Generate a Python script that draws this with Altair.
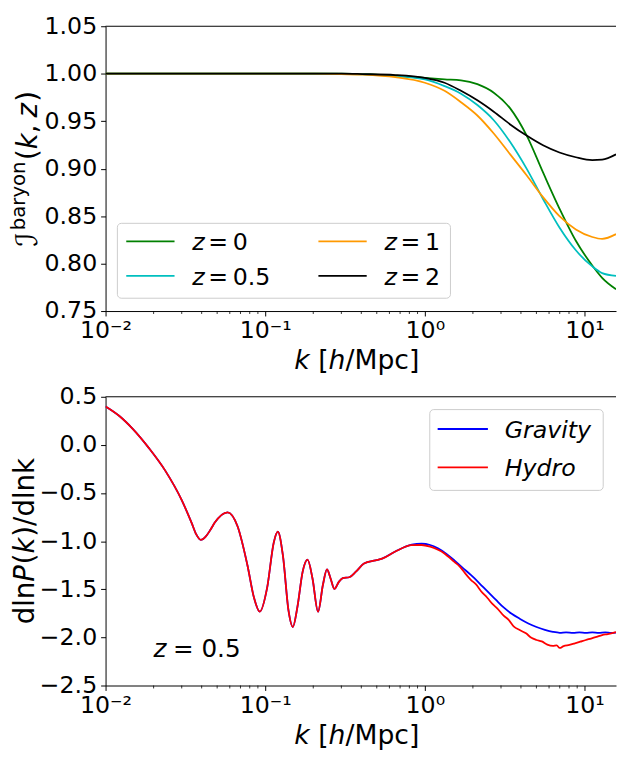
import altair as alt
import pandas as pd

# ---------------- data ----------------
k_top = [0.01, 0.05, 0.1, 0.2, 0.3, 0.406, 0.653, 1.0, 1.329, 1.684, 2.133,
         2.703, 3.425, 4.34, 5.50, 6.97, 8.83, 11.19, 12.9, 15.76]
ib_z0 = [1.0, 1.0, 1.0, 1.0, 1.0, 0.9995, 0.998, 0.9955, 0.994, 0.993, 0.989,
         0.980, 0.9635, 0.935, 0.896, 0.858, 0.824, 0.798, 0.785, 0.773]
ib_z05 = [1.0, 1.0, 1.0, 1.0, 0.9999, 0.9993, 0.9975, 0.994, 0.987, 0.979, 0.967,
          0.951, 0.928, 0.900, 0.868, 0.838, 0.814, 0.797, 0.790, 0.787]
ib_z1 = [1.0, 1.0, 1.0, 1.0, 0.9997, 0.999, 0.9963, 0.9905, 0.982, 0.970, 0.956,
         0.937, 0.915, 0.893, 0.870, 0.850, 0.836, 0.828, 0.826, 0.831]
ib_z2 = [1.0, 1.0, 1.0, 1.0, 1.0, 0.9996, 0.9986, 0.9956, 0.9905, 0.982, 0.972,
         0.960, 0.9466, 0.9348, 0.9246, 0.917, 0.912, 0.909, 0.9095, 0.915]
series_top = ["z = 0", "z = 0.5", "z = 1", "z = 2"]
colors_top = ["#008000", "#00bfbf", "#ff9900", "#000000"]

k_low = [0.0100, 0.0122, 0.01475, 0.0187, 0.0237, 0.0300, 0.0346, 0.0370, 0.0395,
         0.0425, 0.0455, 0.0482, 0.0582, 0.0671, 0.0774, 0.0851, 0.0925, 0.1028,
         0.1132, 0.1200, 0.1291, 0.1400, 0.1490, 0.1590, 0.1717, 0.1842, 0.1977,
         0.2143, 0.2300, 0.2437, 0.2565, 0.2714, 0.2900, 0.3060, 0.3365, 0.3700,
         0.4160, 0.4910, 0.5400, 0.6530]
dlnp_low = [0.399, 0.30, 0.169, -0.034, -0.27, -0.574, -0.81, -0.93, -0.987,
            -0.95, -0.88, -0.81, -0.70, -0.845, -1.25, -1.588, -1.733, -1.486,
            -1.013, -0.902, -1.149, -1.723, -1.892, -1.689, -1.317, -1.193, -1.385,
            -1.733, -1.453, -1.294, -1.385, -1.497, -1.42, -1.385, -1.375, -1.317,
            -1.233, -1.20, -1.182, -1.108]
k_grav_hi = [0.8275, 0.954, 1.08, 1.208, 1.36, 1.531, 1.72, 1.941, 2.19, 2.46, 2.77,
             3.117, 3.5, 3.95, 4.45, 5.007, 5.65, 6.346, 7.0, 7.67, 8.5, 9.3, 10.2,
             11.2, 12.3, 13.5, 14.7, 15.76]
dlnp_grav_hi = [-1.037, -1.027, -1.04, -1.075, -1.13, -1.2, -1.275, -1.351, -1.435,
                -1.52, -1.605, -1.689, -1.755, -1.808, -1.855, -1.892, -1.922, -1.943,
                -1.952, -1.947, -1.953, -1.947, -1.953, -1.947, -1.953, -1.948,
                -1.952, -1.95]
k_hydro_hi = [0.8275, 0.954, 1.08, 1.208, 1.3, 1.4, 1.531, 1.65, 1.78, 1.941, 2.1,
              2.25, 2.46, 2.65, 2.85, 3.117, 3.35, 3.6, 3.95, 4.3, 4.65, 5.007, 5.4,
              5.85, 6.346, 6.7, 7.0, 7.4, 8.04, 8.7, 9.4, 10.19, 11.0, 11.9, 12.9,
              14.0, 15.76]
dlnp_hydro_hi = [-1.042, -1.04, -1.058, -1.09, -1.118, -1.16, -1.216, -1.262, -1.33,
                 -1.402, -1.452, -1.52, -1.588, -1.652, -1.70, -1.774, -1.818,
                 -1.885, -1.926, -1.958, -2.005, -2.027, -2.042, -2.075, -2.088,
                 -2.083, -2.11, -2.09, -2.078, -2.062, -2.045, -2.027, -2.012,
                 -1.995, -1.976, -1.965, -1.945]
series_bot = ["Gravity", "Hydro"]
colors_bot = ["#0000ff", "#ff0000"]

x_major = [0.01, 0.1, 1, 10]
x_minor = [0.02, 0.03, 0.04, 0.05, 0.06, 0.07, 0.08, 0.09,
           0.2, 0.3, 0.4, 0.5, 0.6, 0.7, 0.8, 0.9,
           2, 3, 4, 5, 6, 7, 8, 9]
y_top_ticks = [0.75, 0.80, 0.85, 0.90, 0.95, 1.00, 1.05]
y_bot_ticks = [-2.5, -2.0, -1.5, -1.0, -0.5, 0.0, 0.5]
annot_k, annot_v = 0.02, -2.2

# ---------------- layout / style ----------------
W = 518
H1, H2 = 289, 293
K_MAX = 15.76
FONT = "DejaVu Sans"
TICK_FS, YTITLE_FS, XTITLE_FS, LEG_FS, ANN_FS = 24, 28, 27, 24, 25
LW = 1.8
THIN = "\u2009"

EM = {' ': 0.318, '[': 0.390, ']': 0.390, '/': 0.337, 'M': 0.863, 'p': 0.635,
      'c': 0.550, 'd': 0.635, 'l': 0.278, 'n': 0.634, '(': 0.390, ')': 0.390,
      ',': 0.318, '=': 0.838, '.': 0.318, 'k': 0.579, 'h': 0.634, 'z': 0.525,
      'P': 0.603, 'b': 0.635, 'a': 0.613, 'r': 0.411, 'y': 0.592, 'o': 0.612,
      'ℐ': 0.52}


def seg_width(s, fs):
    return sum(EM.get(c, 0.6) for c in s) * fs


def layout(segs, x0, y0, vertical=False):
    """segs: (text, italic, fontsize, rise, gap_em); centred on x0 (or y0)."""
    total = sum(g * fs + seg_width(t, fs) for t, it, fs, rise, g in segs)
    pos = -total / 2
    rows = []
    for t, it, fs, rise, g in segs:
        pos += g * fs
        if vertical:
            rows.append(dict(t=t, it=it, fs=fs, px=x0 - rise, py=y0 - pos, ang=270))
        else:
            rows.append(dict(t=t, it=it, fs=fs, px=x0 + pos, py=y0 - rise, ang=0))
        pos += seg_width(t, fs)
    return rows


def text_layers(rows):
    df = pd.DataFrame(rows)
    out = []
    for italic in (False, True):
        sub = df[df["it"] == italic].drop(columns=["it"])
        if len(sub) == 0:
            continue
        out.append(alt.Chart(sub).mark_text(
            align="left", baseline="alphabetic", font=FONT, color="black",
            fontStyle="italic" if italic else "normal").encode(
            x=alt.X("px:Q", scale=None, axis=None),
            y=alt.Y("py:Q", scale=None, axis=None),
            text="t:N",
            size=alt.Size("fs:Q", scale=None),
            angle=alt.Angle("ang:Q", scale=None)))
    return out


def legend_box(x1, x2, y1, y2):
    return alt.Chart(pd.DataFrame({"d": [0]})).mark_rect(
        cornerRadius=4, fill="white", fillOpacity=0.8, stroke="#cccccc",
        strokeWidth=1).encode(x=alt.value(x1), x2=alt.value(x2),
                              y=alt.value(y1), y2=alt.value(y2))


def legend_lines(rows):
    return alt.Chart(pd.DataFrame(rows)).mark_rule(strokeWidth=LW).encode(
        x=alt.X("x1:Q", scale=None, axis=None), x2="x2:Q",
        y=alt.Y("y:Q", scale=None, axis=None),
        color=alt.Color("c:N", scale=None))


def top_spine():
    return alt.Chart(pd.DataFrame({"d": [0]})).mark_rule(
        color="black", strokeWidth=1).encode(
        x=alt.value(0), x2=alt.value(W), y=alt.value(0))


LABEL_EXPR = ("datum.value < 0.05 ? '10\u207b\u00b2' : datum.value < 0.5 ? "
              "'10\u207b\u00b9' : datum.value < 5 ? '10\u2070' : '10\u00b9'")
x_scale = alt.Scale(type="log", domain=[0.01, K_MAX], nice=False)
x_axis = alt.Axis(values=x_major, labelExpr=LABEL_EXPR, title=None, grid=False,
                  tickSize=5, labelPadding=3, labelFlush=False, labelOverlap=False)


def minor_ticks(h):
    return alt.Chart(pd.DataFrame({"k": x_minor})).mark_rule(
        color="black", strokeWidth=0.8).encode(
        x=alt.X("k:Q", scale=x_scale, axis=x_axis),
        y=alt.value(h), y2=alt.value(h + 3))


def x_title(h):
    return layout([("k", True, XTITLE_FS, 0, 0), ("[", False, XTITLE_FS, 0, 0.318),
                   ("h", True, XTITLE_FS, 0, 0), ("/Mpc]", False, XTITLE_FS, 0, 0)],
                  W / 2 - 4, h + 59)


def legend_z_text(tx, ty, num):
    return [dict(t="z", it=True, fs=LEG_FS, px=tx, py=ty + 9, ang=0),
            dict(t="=" + THIN + num, it=False, fs=LEG_FS,
                 px=tx + (0.525 + 0.15) * LEG_FS, py=ty + 9, ang=0)]


# ---------------- top panel ----------------
df_top = pd.DataFrame({
    "k": k_top * 4,
    "v": ib_z0 + ib_z05 + ib_z1 + ib_z2,
    "series": [s for s in series_top for _ in k_top],
})
y_top_scale = alt.Scale(domain=[0.75, 1.05], nice=False, zero=False)
y_top_axis = alt.Axis(values=y_top_ticks, format=".2f", title=None, grid=False,
                      tickSize=5, labelPadding=4, labelFlush=False, labelOverlap=False)
lines_top = alt.Chart(df_top).mark_line(
    strokeWidth=LW, interpolate="monotone", clip=True).encode(
    x=alt.X("k:Q", scale=x_scale, axis=x_axis),
    y=alt.Y("v:Q", scale=y_top_scale, axis=y_top_axis),
    color=alt.Color("series:N", scale=alt.Scale(domain=series_top, range=colors_top),
                    legend=None))

ytitle_top = layout([("ℐ", False, 30, 0, 0), ("baryon", False, 20, 12, 0.04),
                     ("(", False, YTITLE_FS, 0, 0.05), ("k", True, YTITLE_FS, 0, 0),
                     (",", False, YTITLE_FS, 0, 0), ("z", True, YTITLE_FS, 0, 0.25),
                     (")", False, YTITLE_FS, 0, 0.05)],
                    -70, H1 / 2, vertical=True)

row1, row2 = H1 - 70.7, H1 - 35.7
leg_top_lines = [dict(x1=21, x2=70, y=row1, c=colors_top[0]),
                 dict(x1=21, x2=70, y=row2, c=colors_top[1]),
                 dict(x1=216, x2=265, y=row1, c=colors_top[2]),
                 dict(x1=216, x2=265, y=row2, c=colors_top[3])]
leg_top_text = (legend_z_text(88, row1, "0") + legend_z_text(88, row2, "0.5") +
                legend_z_text(283, row1, "1") + legend_z_text(283, row2, "2"))

top = alt.layer(
    lines_top, top_spine(), minor_ticks(H1),
    legend_box(12, 350, H1 - 89, H1 - 13), legend_lines(leg_top_lines),
    *text_layers(leg_top_text), *text_layers(ytitle_top), *text_layers(x_title(H1)),
).properties(width=W, height=H1)

# ---------------- bottom panel ----------------
df_bot = pd.DataFrame({
    "k": k_low + k_grav_hi + k_low + k_hydro_hi,
    "v": dlnp_low + dlnp_grav_hi + dlnp_low + dlnp_hydro_hi,
    "series": ["Gravity"] * (len(k_low) + len(k_grav_hi)) + ["Hydro"] * (len(k_low) + len(k_hydro_hi)),
})
y_bot_scale = alt.Scale(domain=[-2.5, 0.5], nice=False, zero=False)
y_bot_axis = alt.Axis(values=y_bot_ticks, format=".1f", title=None, grid=False,
                      tickSize=5, labelPadding=4, labelFlush=False, labelOverlap=False)
lines_bot = alt.Chart(df_bot).mark_line(
    strokeWidth=LW, interpolate="monotone", clip=True).encode(
    x=alt.X("k:Q", scale=x_scale, axis=x_axis),
    y=alt.Y("v:Q", scale=y_bot_scale, axis=y_bot_axis),
    color=alt.Color("series:N", scale=alt.Scale(domain=series_bot, range=colors_bot),
                    legend=None))

ytitle_bot = layout([("dln", False, YTITLE_FS, 0, 0), ("P", True, YTITLE_FS, 0, 0),
                     ("(", False, YTITLE_FS, 0, 0.03), ("k", True, YTITLE_FS, 0, 0),
                     (")/dlnk", False, YTITLE_FS, 0, 0.03)],
                    -73, H2 / 2, vertical=True)

leg_bot_lines = [dict(x1=337, x2=388, y=32.7, c=colors_bot[0]),
                 dict(x1=337, x2=388, y=71.7, c=colors_bot[1])]
leg_bot_text = [dict(t="Gravity", it=True, fs=LEG_FS, px=405, py=32.7 + 9, ang=0),
                dict(t="Hydro", it=True, fs=LEG_FS, px=405, py=71.7 + 9, ang=0)]

annot_df = pd.DataFrame({"k": [annot_k], "v": [annot_v]})
annot_z = alt.Chart(annot_df).mark_text(
    align="left", baseline="alphabetic", font=FONT, fontSize=ANN_FS,
    fontStyle="italic", color="black", text="z").encode(
    x=alt.X("k:Q", scale=x_scale, axis=x_axis),
    y=alt.Y("v:Q", scale=y_bot_scale, axis=y_bot_axis))
annot_rest = alt.Chart(annot_df).mark_text(
    align="left", baseline="alphabetic", font=FONT, fontSize=ANN_FS,
    color="black", text="= 0.5", dx=(0.525 + 0.26) * ANN_FS).encode(
    x=alt.X("k:Q", scale=x_scale, axis=x_axis),
    y=alt.Y("v:Q", scale=y_bot_scale, axis=y_bot_axis))

bottom = alt.layer(
    lines_bot, top_spine(), minor_ticks(H2), annot_z, annot_rest,
    legend_box(W - 189, W - 13, 13, 95), legend_lines(leg_bot_lines),
    *text_layers(leg_bot_text), *text_layers(ytitle_bot), *text_layers(x_title(H2)),
).properties(width=W, height=H2)

chart = alt.vconcat(top, bottom, spacing=9).resolve_scale(
    color="independent", x="independent", y="independent").properties(
    padding=0).configure_view(stroke="transparent").configure_axis(
    domainColor="black", tickColor="black", labelColor="black", labelFont=FONT,
    labelFontSize=TICK_FS, domainWidth=1, tickWidth=1)

chart.save("out.html", embed_options={"renderer": "svg", "actions": False})
